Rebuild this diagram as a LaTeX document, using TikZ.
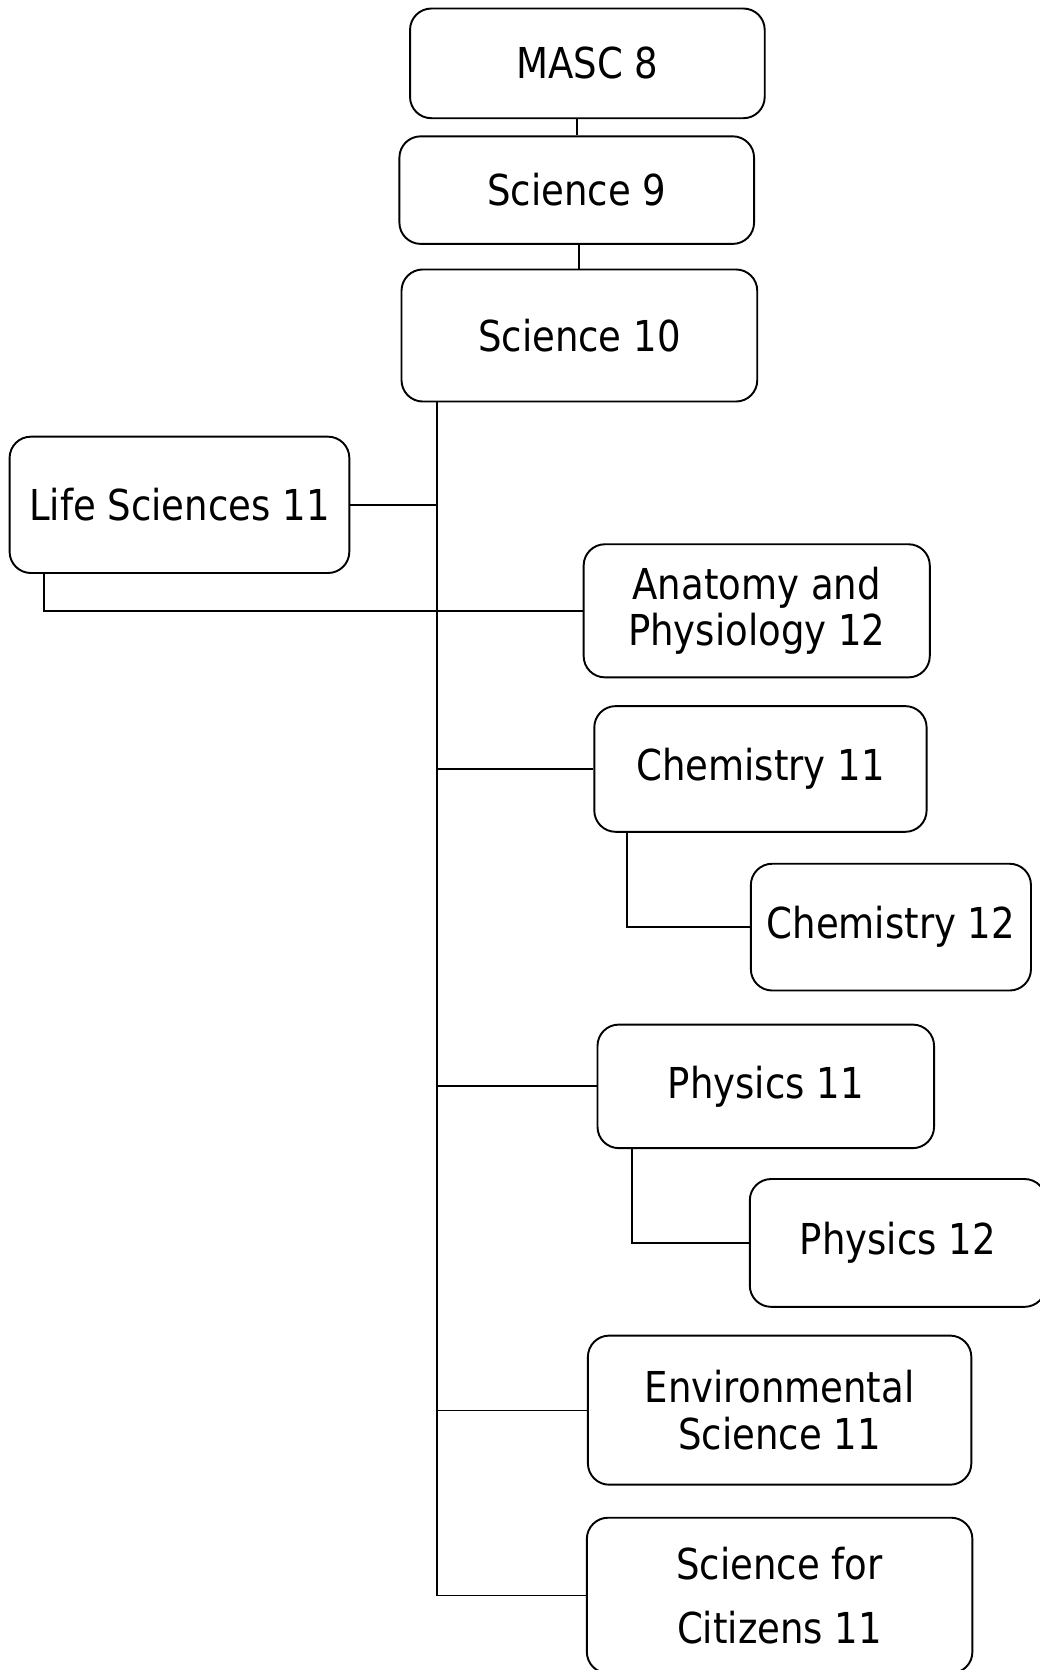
\documentclass[tikz,border=0pt]{standalone}
\usepackage{fontspec}
\setmainfont{DejaVu Sans}[FakeStretch=0.87]
\begin{document}
\begin{tikzpicture}[x=1pt,y=-1pt,
  box/.style={draw, line width=1.8pt, rounded corners=20pt, inner sep=0pt,
    align=center, font=\fontsize{40}{44}\selectfont},
  conn/.style={line width=1.8pt},
  thinconn/.style={line width=1pt}]
\useasboundingbox (0,0) rectangle (976,1568);
\node[box, minimum width=333, minimum height=103] (masc) at (551.5,59.5) {MASC 8};
\node[box, minimum width=333, minimum height=101] (sci9) at (541.5,178.5) {Science 9};
\node[box, minimum width=334, minimum height=124] (sci10) at (544,315) {Science 10};
\node[box, minimum width=319, minimum height=128] (life) at (168.5,474) {Life Sciences 11};
\node[box, minimum width=325, minimum height=125] (anat) at (710.5,573.5) {Anatomy and\\Physiology 12};
\node[box, minimum width=312, minimum height=118] (chem11) at (714,722) {Chemistry 11};
\node[box, minimum width=263, minimum height=119] (chem12) at (836.5,870.5) {Chemistry 12};
\node[box, minimum width=316, minimum height=116] (phys11) at (719,1020) {Physics 11};
\node[box, minimum width=278, minimum height=120] (phys12) at (843,1167) {Physics 12};
\node[box, minimum width=360, minimum height=140] (env) at (732,1324) {Environmental\\Science 11};
\node[box, minimum width=362, minimum height=146, font=\fontsize{40}{60}\selectfont] (cit) at (732,1498) {Science for\\Citizens 11};
\coordinate (trunk) at (410,0);
\coordinate (lc) at (41,0);
\coordinate (cc) at (589,0);
\coordinate (pc) at (593,0);
\draw[conn] (sci9.north) -- (sci9.north |- masc.south);
\draw[conn] (sci10.north) -- (sci10.north |- sci9.south);
\draw[conn] (sci10.south -| trunk) -- (cit.west -| trunk) -- (cit.west);
\draw[conn] (life.east) -- (life.east -| trunk);
\draw[conn] (life.south -| lc) -- (lc |- anat.west) -- (anat.west);
\draw[conn] (chem11.west -| trunk) -- (chem11.west);
\draw[conn] (chem11.south -| cc) -- (cc |- chem12.west) -- (chem12.west);
\draw[conn] (phys11.west -| trunk) -- (phys11.west);
\draw[conn] (phys11.south -| pc) -- (pc |- phys12.west) -- (phys12.west);
\draw[thinconn] (env.west -| trunk) -- (env.west);
\end{tikzpicture}
\end{document}
